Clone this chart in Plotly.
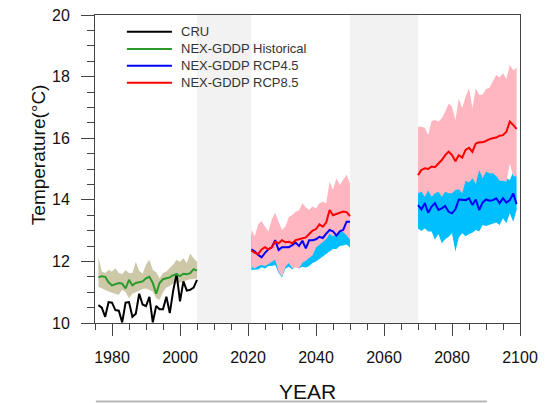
import plotly.graph_objects as go

# ---------------- data ----------------
hist_years = list(range(1976, 2006))
cru = [10.58, 10.50, 10.20, 10.68, 10.66, 10.42, 10.40, 10.02, 10.66, 10.68,
       10.20, 10.30, 10.95, 10.60, 10.55, 10.85, 10.02, 10.55, 10.45, 10.45,
       10.85, 10.32, 11.05, 11.60, 10.70, 11.35, 11.05, 11.08, 11.15, 11.40]
hist_mean = [11.48, 11.52, 11.50, 11.32, 11.22, 11.25, 11.30, 11.28, 11.12, 11.40,
             11.22, 11.30, 11.32, 11.35, 11.45, 11.50, 11.30, 10.95, 11.30, 11.42,
             11.45, 11.48, 11.55, 11.58, 11.52, 11.60, 11.58, 11.62, 11.75, 11.70]
hist_low = [11.18, 11.12, 11.08, 11.02, 10.98, 10.95, 10.92, 11.08, 11.00, 10.80,
            10.95, 11.00, 11.05, 11.10, 11.12, 11.08, 11.02, 10.80, 10.75, 11.00,
            11.15, 11.20, 11.28, 11.28, 11.32, 11.35, 11.38, 11.42, 11.42, 11.45]
hist_high = [12.15, 11.67, 11.62, 11.72, 11.67, 11.78, 11.62, 11.58, 11.72, 11.62,
             11.62, 11.99, 11.70, 11.60, 11.90, 12.05, 11.72, 11.65, 11.45, 11.62,
             11.67, 11.78, 11.90, 12.05, 11.99, 12.10, 11.95, 12.26, 12.10, 11.99]

mid_years = list(range(2021, 2051))
rcp45_mid = [12.39, 12.32, 12.21, 12.13, 12.28, 12.39, 12.46, 12.69, 12.37, 12.46,
             12.46, 12.46, 12.53, 12.61, 12.50, 12.67, 12.42, 12.69, 12.69, 12.72,
             12.80, 12.76, 12.90, 13.02, 12.98, 12.84, 12.98, 13.02, 13.29, 13.29]
rcp45_mid_low = [11.72, 11.72, 11.74, 11.81, 11.77, 11.85, 11.85, 11.88, 11.63, 11.48,
                 11.77, 11.83, 11.74, 11.85, 11.77, 11.83, 11.80, 11.85, 11.95, 12.00,
                 12.08, 12.15, 12.22, 12.30, 12.40, 12.40, 12.50, 12.52, 12.55, 12.45]
rcp45_mid_high = [12.85, 12.78, 12.70, 12.62, 12.75, 12.85, 12.90, 13.10, 12.85, 12.90,
                  12.95, 12.95, 13.00, 13.08, 13.00, 13.12, 12.95, 13.15, 13.15, 13.20,
                  13.30, 13.25, 13.40, 13.60, 13.50, 13.35, 13.50, 13.55, 13.70, 13.70]
rcp85_mid = [12.35, 12.28, 12.24, 12.39, 12.46, 12.39, 12.46, 12.64, 12.59, 12.69,
             12.62, 12.64, 12.59, 12.69, 12.72, 12.75, 12.78, 12.89, 13.00, 13.05,
             13.20, 13.13, 13.26, 13.67, 13.50, 13.54, 13.58, 13.62, 13.60, 13.47]
rcp85_mid_low = [11.83, 11.77, 11.85, 11.88, 11.85, 11.92, 11.99, 12.05, 11.67, 11.50,
                 11.83, 11.95, 11.78, 11.80, 11.76, 11.96, 12.02, 12.10, 12.20, 12.45,
                 12.55, 12.65, 12.72, 12.90, 12.82, 12.88, 12.96, 12.95, 12.85, 12.70]
rcp85_mid_high = [13.02, 12.82, 13.21, 13.31, 13.13, 12.97, 13.37, 13.58, 13.29, 13.02,
                  13.13, 13.43, 13.51, 13.61, 13.65, 13.89, 13.76, 13.67, 13.78, 13.72,
                  13.89, 13.94, 13.89, 14.59, 14.32, 14.70, 14.48, 14.64, 14.81, 14.53]

late_years = list(range(2070, 2100))
rcp45_late = [13.83, 13.69, 13.89, 13.58, 13.78, 13.89, 13.67, 13.72, 13.80, 13.61,
              13.56, 13.69, 14.01, 14.01, 13.99, 14.05, 13.83, 14.01, 13.67, 13.91,
              14.01, 13.97, 13.99, 14.05, 13.89, 14.05, 13.91, 13.99, 14.21, 13.86]
rcp45_late_low = [13.07, 12.99, 13.07, 12.97, 12.97, 12.70, 12.89, 12.59, 12.72, 12.80,
                  12.91, 12.32, 12.78, 12.91, 12.82, 12.89, 12.93, 13.02, 12.97, 13.18,
                  13.15, 13.18, 13.21, 13.26, 13.18, 13.40, 13.24, 13.56, 13.29, 13.67]
rcp45_late_high = [14.50, 14.40, 14.40, 14.50, 14.40, 14.50, 14.40, 14.40, 14.50, 14.40,
                   14.40, 14.50, 14.60, 14.50, 14.80, 14.70, 14.80, 14.70, 15.00, 14.90,
                   15.00, 15.00, 14.90, 14.90, 14.80, 14.80, 14.70, 14.64, 14.90, 14.80]
rcp85_late = [14.80, 14.97, 15.02, 15.00, 15.08, 15.06, 15.18, 15.29, 15.45, 15.56,
              15.45, 15.25, 15.45, 15.37, 15.62, 15.69, 15.56, 15.83, 15.87, 15.87,
              15.91, 15.97, 16.00, 16.02, 16.08, 16.10, 16.21, 16.54, 16.43, 16.30]
rcp85_late_low = [14.21, 14.26, 14.10, 14.30, 14.10, 14.21, 14.26, 14.10, 14.26, 14.21,
                  14.21, 14.32, 14.34, 14.21, 14.62, 14.56, 14.70, 14.51, 14.97, 14.70,
                  14.91, 14.86, 14.86, 14.77, 14.62, 14.62, 14.59, 15.18, 14.77, 14.75]
rcp85_late_high = [16.37, 16.37, 16.34, 16.10, 16.56, 16.59, 16.54, 16.65, 16.86, 17.13,
                   17.02, 16.59, 17.29, 16.97, 17.35, 17.62, 16.97, 17.62, 17.40, 17.42,
                   17.60, 17.64, 17.84, 18.05, 17.97, 18.11, 17.92, 18.38, 18.21, 18.29]

gap_periods = [(2005, 2021), (2050, 2070)]
x_ticks = [1980, 2000, 2020, 2040, 2060, 2080, 2100]
y_ticks = [10, 12, 14, 16, 18, 20]
legend_names = ["CRU", "NEX-GDDP Historical", "NEX-GDDP RCP4.5", "NEX-GDDP RCP8.5"]

# ---------------- styles ----------------
FONT = "Liberation Sans"
AX = "#444444"
C_BAND_H = "#ccc8a8"
C_CYAN = "#00bfff"
C_PINK = "#ffb6c1"
C_LINES = ["black", "#2a9a2a", "#0000ff", "#ff0000"]

fig = go.Figure()


def band(x, lo, hi, color):
    fig.add_trace(go.Scatter(x=x, y=lo, mode="lines", line=dict(width=0, color=color),
                             showlegend=False, hoverinfo="skip"))
    fig.add_trace(go.Scatter(x=x, y=hi, mode="lines", line=dict(width=0, color=color),
                             fill="tonexty", fillcolor=color, showlegend=False,
                             hoverinfo="skip"))


band(hist_years, hist_low, hist_high, C_BAND_H)
band(mid_years, rcp45_mid_low, rcp45_mid_high, C_CYAN)
band(mid_years, rcp85_mid_low, rcp85_mid_high, C_PINK)
band(late_years, rcp45_late_low, rcp45_late_high, C_CYAN)
band(late_years, rcp85_late_low, rcp85_late_high, C_PINK)


def line(x, y, color):
    fig.add_trace(go.Scatter(x=x, y=y, mode="lines", showlegend=False,
                             line=dict(color=color, width=2)))


line(hist_years, cru, C_LINES[0])
line(hist_years, hist_mean, C_LINES[1])
line(mid_years, rcp45_mid, C_LINES[2])
line(late_years, rcp45_late, C_LINES[2])
line(mid_years, rcp85_mid, C_LINES[3])
line(late_years, rcp85_late, C_LINES[3])

for a, b in gap_periods:
    fig.add_shape(type="rect", xref="x", yref="paper", x0=a, x1=b, y0=0, y1=1,
                  fillcolor="#f2f2f2", line=dict(width=0), layer="below")

# legend (drawn in the top-left of the plot)
leg_rows = [0.946, 0.890, 0.835, 0.780]
for name, col, ly in zip(legend_names, C_LINES, leg_rows):
    fig.add_shape(type="line", xref="paper", yref="paper", x0=0.075, x1=0.181,
                  y0=ly, y1=ly, line=dict(color=col, width=2))
    fig.add_annotation(text=name, xref="paper", yref="paper", x=0.198, y=ly,
                       xanchor="left", yanchor="middle", showarrow=False,
                       font=dict(family=FONT, size=13, color="#333333"))

# stray line at the very bottom of the picture
fig.add_shape(type="line", xref="paper", yref="paper", x0=0.002, x1=0.922,
              y0=-0.255, y1=-0.255, line=dict(color="#b8b8b8", width=2))

fig.add_annotation(text="Temperature(°C)", xref="paper", yref="paper", x=-0.134, y=0.545,
                   xanchor="center", yanchor="middle", textangle=-90, showarrow=False,
                   font=dict(family=FONT, size=19, color="#111111"))
fig.add_annotation(text="YEAR", xref="paper", yref="paper", x=0.499, y=-0.224,
                   xanchor="center", yanchor="middle", showarrow=False,
                   font=dict(family=FONT, size=21, color="#111111"))

fig.update_layout(
    width=553, height=403,
    margin=dict(l=87, r=41, t=7, b=88),
    paper_bgcolor="white", plot_bgcolor="white",
    font=dict(family=FONT, color="#111111"),
    showlegend=False,
    xaxis=dict(range=[1975, 2100], tickvals=x_ticks, ticks="outside", ticklen=12,
               tickwidth=1, tickcolor=AX, showline=True, linecolor=AX, linewidth=1,
               mirror=True, showgrid=False, zeroline=False, automargin=False,
               tickfont=dict(family=FONT, size=16), ticklabelstandoff=8,
               ticklabeloverflow="allow",
               minor=dict(dtick=5, tick0=1975, ticks="outside", ticklen=6,
                          tickcolor=AX, showgrid=False)),
    yaxis=dict(range=[10, 20], tickvals=y_ticks, ticks="outside", ticklen=13,
               tickwidth=1, tickcolor=AX, showline=True, linecolor=AX, linewidth=1,
               mirror=True, showgrid=False, zeroline=False, automargin=False,
               tickfont=dict(family=FONT, size=16), ticklabelstandoff=8,
               ticklabeloverflow="allow",
               minor=dict(dtick=0.5, tick0=10, ticks="outside", ticklen=7,
                          tickcolor=AX, showgrid=False)),
)

fig.write_html("out.html")
